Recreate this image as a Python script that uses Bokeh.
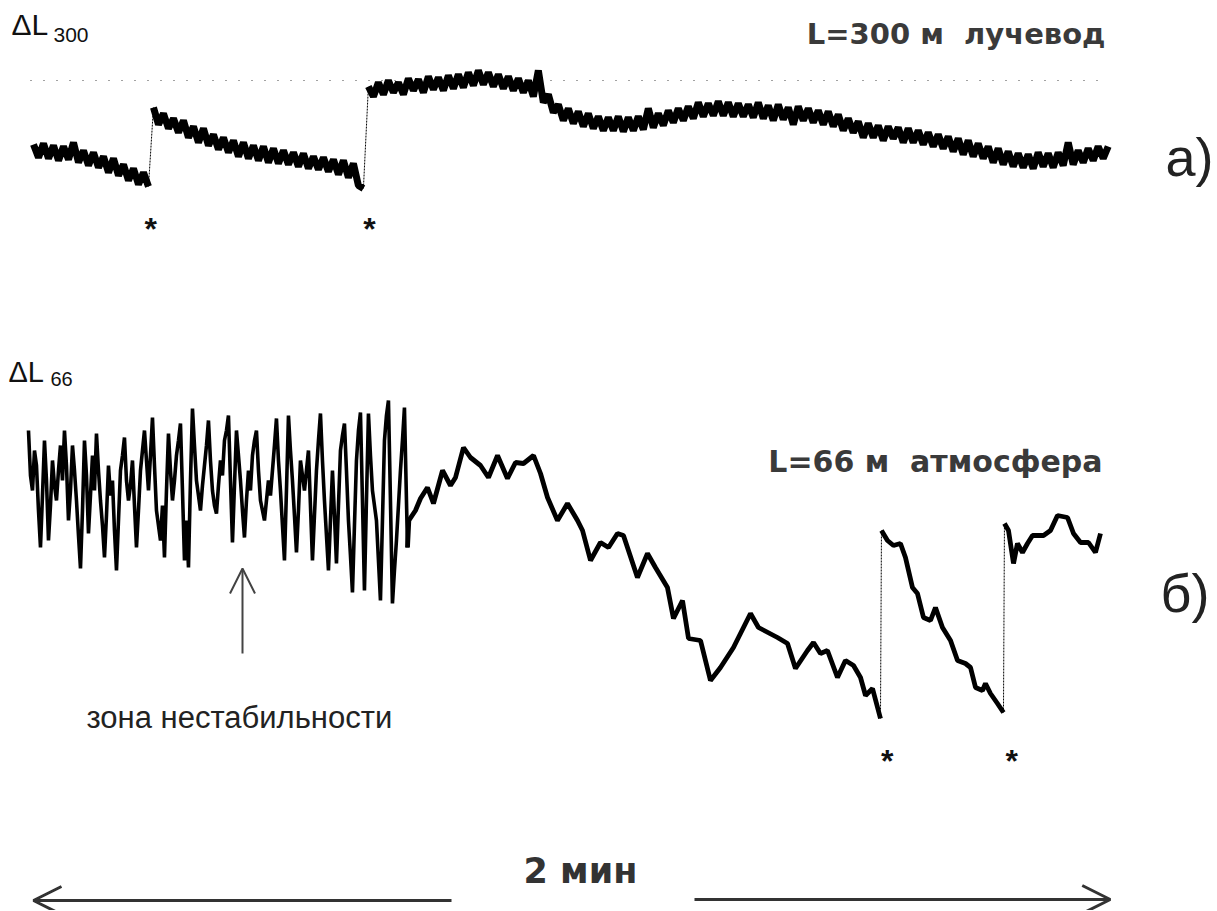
import numpy as np
from bokeh.plotting import figure
from bokeh.models import Range1d, Label, Arrow, OpenHead
from bokeh.embed import file_html
from bokeh.resources import INLINE

# ---------------- data (time in s, dL in arbitrary units) ----------------
# trace a) L=300 m light-guide, uniform sampling
DT_A = 0.558
dL300 = [
    -64, -77, -63, -78, -65, -80, -66, -79, -62, -82, -70, -85, -72, -87, -76, -92,
    -78, -95, -84, -100, -88, -104, -92, -106,
    -27, -44, -33, -48, -38, -52, -40, -57, -46, -62, -48, -65, -54, -69, -57, -72,
    -60, -76, -62, -78, -65, -80, -66, -82, -68, -83, -70, -84, -72, -86, -73, -88,
    -76, -89, -77, -91, -79, -94, -80, -97, -83, -105, -108,
    -6, -16, -2, -14, 0, -12, -2, -14, 2, -10, 1, -12, 4, -9, 3, -10, 5, -8, 6, -7,
    8, -5, 10, -4, 8, -6, 6, -8, 4, -10, 2, -12, 0, -16,
    10, -22, -14, -32, -24, -40, -28, -43, -31, -46, -33, -48, -36, -50, -37, -50,
    -36, -51, -37, -50, -36, -49, -28, -47, -33, -45, -30, -42, -28, -40, -26, -38,
    -22, -36, -23, -35, -21, -35, -22, -36, -23, -36, -24, -37, -22, -38, -25, -40,
    -24, -39,
    -27, -44, -26, -40, -28, -42, -30, -44, -31, -46, -34, -50, -38, -52, -41, -57,
    -43, -57, -45, -60, -46, -58, -47, -62, -48, -62, -50, -64, -52, -66, -54, -68,
    -56, -71, -58, -74, -60, -76, -63, -78, -66, -82, -68, -84, -71, -86, -73, -87,
    -74, -88, -72, -86, -73, -87, -72, -85, -62, -84, -70, -82, -68, -80, -66, -78,
    -66,
]
t_a = np.arange(len(dL300)) * DT_A

# trace b) L=66 m atmosphere: unstable zone, uniform sampling over [T0_B, T1_B]
T0_B, T1_B = -0.56, 41.41
dL66_unstable = [
    70, 25, 10, 50, 35, -10, -47, 5, 60, 20, -40, -5, 40, 15, 0, 30, 55, 20, 70, 35,
    -20, 10, 55, 30, 0, -35, -68, -10, 60, 25, -33, 5, 45, 10, 67, 30, 0, -25, -57, -15,
    35, 5, 20, -30, -70, -20, 30, 45, 63, 20, 0, 15, 40, -5, -47, -10, 30, 50, 70, 40,
    10, 45, 83, 35, -10, -25, -40, -5, -57, 10, 67, 30, 0, 20, 45, 60, 77, 10, -60, -20,
    -67, 20, 92, 55, 20, 5, -10, 15, 35, 55, 80, 40, 10, -5, -13, 15, 40, 25, 60, 70,
    85, 20, -42, 15, 70, 45, 20, -10, -37, 0, 30, 10, 45, 60, 70, 30, 0, -10, -20, 0,
    20, 5, 30, 55, 82, 40, 10, -25, -60, 10, 85, 50, 20, -15, -52, -10, 40, 25, 10, 30,
    50, -5, -60, -15, 30, 60, 87, 40, 0, -35, -70, -20, 30, -15, -63, -5, 50, 65, 77, 30,
    -20, -55, -92, -25, 40, 70, 88, 0, -90, 0, 87, 45, 10, -5, -20, -60, -100, -20, 60, 85,
    100, 0, -103, -70, -40, -5, 30, 60, 93,
]
t_b_unstable = np.linspace(T0_B, T1_B, len(dL66_unstable))

# trace b) stable part
t_b = [41.75, 41.9, 42.64, 43.20, 43.98, 44.65, 45.66, 46.55, 47.11, 48.00, 48.78,
       49.90, 50.79, 51.80, 52.91, 53.81, 54.70, 55.82, 56.60, 57.38, 58.49, 59.61,
       60.73, 61.29, 62.18, 63.29, 64.19, 65.19, 65.86, 67.42, 68.54, 69.43, 70.77,
       71.44, 72.45, 73.12, 74.46, 75.57, 76.69, 78.14, 80.04, 80.93, 83.05, 84.17,
       85.06, 86.40, 87.07, 87.85, 88.63, 89.75, 90.64, 91.54, 92.32, 92.88, 93.66,
       94.55, 94.66, 95.33, 96.00, 96.78, 97.34, 98.12, 98.68, 99.35, 100.13, 100.69,
       101.47, 102.37, 103.15, 104.04, 104.60, 105.16, 105.94, 106.27, 106.83, 107.61,
       108.28, 108.39, 108.84, 109.40, 109.84, 110.40, 110.96, 111.52, 112.75, 113.53,
       114.31, 115.43, 116.10, 116.88, 117.77, 118.55, 119.11]
dL66 = [-47, -20, -10, 2, 13, -3, 30, 15, 23, 53, 43, 35, 23, 45, 22, 38, 37, 45, 27,
        3, -20, -3, -20, -30, -60, -42, -47, -33, -35, -77, -53, -67, -87, -118, -100,
        -138, -140, -180, -167, -147, -113, -127, -137, -143, -168, -150, -142, -153,
        -150, -177, -160, -165, -177, -195, -188, -218, -30, -40, -45, -43, -57, -87,
        -93, -117, -120, -107, -127, -140, -160, -163, -167, -187, -190, -183, -193,
        -203, -212, -23, -30, -63, -43, -52, -43, -35, -35, -30, -15, -17, -33, -42,
        -42, -52, -33]

marks_a = [13.1, 37.5]     # jump events (*)
marks_b = [95.3, 109.2]
scale_bar = [0, 120]       # 2 min

# ---------------- layout helpers (page px -> data) ----------------
PX_S = 8.958
X0 = 33
def tx(px):
    return (px - X0) / PX_S
def ya(py):
    return 80 - py

W, H = 1216, 910
p = figure(width=W, height=H, output_backend="svg", toolbar_location=None,
           x_axis_type=None, y_axis_type=None, min_border=0,
           x_range=Range1d(tx(0), tx(W)),
           y_range=Range1d(ya(H), ya(0)))
p.extra_y_ranges = {"b": Range1d(ya(H) + 420, ya(0) + 420)}
p.outline_line_color = None
p.background_fill_color = "white"
p.border_fill_color = "white"


def draw_trace(t, v, width, jump, rname="default"):
    t = np.asarray(t, float)
    v = np.asarray(v, float)
    cut = np.where(np.abs(np.diff(v)) > jump)[0]
    s = 0
    for c in cut:
        p.line(t[s:c + 1], v[s:c + 1], line_width=width, color="black",
               y_range_name=rname)
        p.line(t[c:c + 2], v[c:c + 2], line_width=1, color="black",
               line_dash="2 1", y_range_name=rname)
        s = c + 1
    p.line(t[s:], v[s:], line_width=width, color="black", y_range_name=rname)


# reference level
p.line([tx(30), tx(1097)], [0, 0], line_width=1.2, color="#444", line_dash="1 12")

draw_trace(t_a, dL300, 7, 40)
tu = list(t_b_unstable) + [t_b[0]]
vu = list(dL66_unstable) + [dL66[0]]
p.line(tu, vu, line_width=3.6, color="black", y_range_name="b")
draw_trace(t_b, dL66, 4.8, 100, "b")


def lab(x, py, text, size, bold=False, color="#222", align="left",
        font="Liberation Sans", dy=None):
    # py: page-pixel baseline; Bokeh's baseline sits ~0.37em lower than expected
    if dy is None:
        dy = 0.37 * size
    p.add_layout(Label(x=x, y=ya(py - dy), text=text, text_font=font,
                       text_font_size=f"{size}px",
                       text_font_style="bold" if bold else "normal",
                       text_color=color, text_align=align,
                       text_baseline="alphabetic"))


lab(tx(11), 35, "ΔL", 30, color="#111")
lab(tx(53), 42, "300", 21, color="#111")
lab(tx(8), 382, "ΔL", 29, color="#111")
lab(tx(50), 386, "66", 20, color="#111")
lab(tx(1105), 44, "L=300 м\u00a0 лучевод", 29, True, "#3a3a3a", "right", "DejaVu Sans")
lab(tx(1102), 472, "L=66 м\u00a0 атмосфера", 30, True, "#3a3a3a", "right", "DejaVu Sans")
lab(tx(1165), 176, "а)", 54, color="#222")
lab(tx(1160), 612, "б)", 54, color="#222")
lab(tx(86), 728, "зона нестабильности", 31, color="#222")
lab(tx(580), 883, "2 мин", 35, True, "#333", "center", "DejaVu Sans")

for m in marks_a:
    lab(m, 228, "*", 32, True, "#111", "center", dy=0)
for m in marks_b:
    lab(m, 760, "*", 32, True, "#111", "center", dy=0)

# instability arrow
p.add_layout(Arrow(x_start=tx(242), y_start=ya(653), x_end=tx(242), y_end=ya(568),
                   line_width=2, line_color="#444",
                   end=OpenHead(size=25, line_width=2, line_color="#444")))
# 2 min scale arrows
p.add_layout(Arrow(x_start=tx(451), y_start=ya(900), x_end=scale_bar[0], y_end=ya(900),
                   line_width=3, line_color="#333",
                   end=OpenHead(size=28, line_width=3, line_color="#333")))
p.add_layout(Arrow(x_start=tx(694), y_start=ya(899), x_end=scale_bar[1] + 0.2, y_end=ya(899),
                   line_width=3, line_color="#333",
                   end=OpenHead(size=28, line_width=3, line_color="#333")))

open("out.html", "w").write(file_html(p, INLINE))
